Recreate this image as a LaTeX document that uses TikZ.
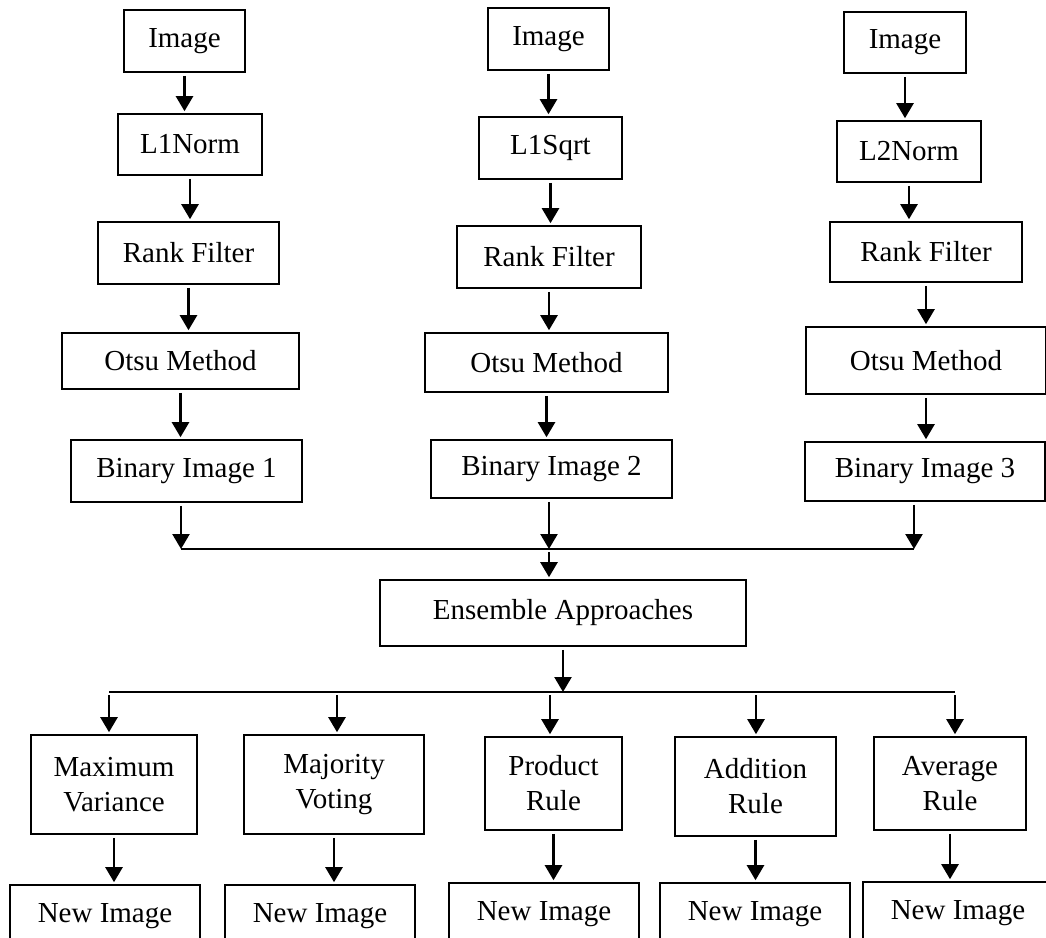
\documentclass[tikz,border=0pt]{standalone}
\usepackage{fontspec}
\setmainfont{Liberation Serif}
\usetikzlibrary{arrows.meta}

\begin{document}
\begin{tikzpicture}[x=0.5pt, y=-0.5pt,
  box/.style={draw, line width=0.8pt, inner sep=0pt, align=center, font=\fontsize{14.5}{17.5}\selectfont},
  arr/.style={line width=1.2pt, -{Triangle[length=7.5pt,width=8.5pt]}, shorten <=1.5pt, shorten >=1pt},
  bus/.style={line width=0.8pt}]

\useasboundingbox (0,0) rectangle (1046,938);
\clip (0,0) rectangle (1046,938);

\node[box, minimum width=60.5pt, minimum height=31pt] (img1) at (184.5,41) {Image};
\node[box, minimum width=72pt, minimum height=30.5pt] (nrm1) at (190,144.5) {L1Norm};
\node[box, minimum width=90.5pt, minimum height=31pt] (rank1) at (188.5,253) {Rank Filter};
\node[box, minimum width=118.5pt, minimum height=28pt] (otsu1) at (180.5,361) {Otsu Method};
\node[box, minimum width=115.5pt, minimum height=31pt] (bin1) at (186.5,471) {Binary Image 1};

\node[box, minimum width=60.5pt, minimum height=31pt] (img2) at (548.5,39) {Image};
\node[box, minimum width=71.5pt, minimum height=31pt] (nrm2) at (550.5,148) {L1Sqrt};
\node[box, minimum width=92pt, minimum height=31pt] (rank2) at (549,257) {Rank Filter};
\node[box, minimum width=121.5pt, minimum height=29.5pt] (otsu2) at (546.5,362.5) {Otsu Method};
\node[box, minimum width=120.5pt, minimum height=29pt] (bin2) at (551.5,469) {Binary Image 2};

\node[box, minimum width=61pt, minimum height=30.5pt] (img3) at (905,42.5) {Image};
\node[box, minimum width=72pt, minimum height=30.5pt] (nrm3) at (909,151.5) {L2Norm};
\node[box, minimum width=96pt, minimum height=30pt] (rank3) at (926,252) {Rank Filter};
\node[box, minimum width=120pt, minimum height=33.5pt] (otsu3) at (926,360.5) {Otsu Method};
\node[box, minimum width=120pt, minimum height=29.5pt] (bin3) at (925,471.5) {Binary Image 3};

\node[box, minimum width=183pt, minimum height=33pt] (ens) at (563,613) {Ensemble Approaches};

\node[box, minimum width=83pt, minimum height=49.5pt] (mv) at (114,784.5) {Maximum\\Variance};
\node[box, minimum width=90pt, minimum height=49.5pt] (mj) at (334,784.5) {Majority\\Voting};
\node[box, minimum width=68.5pt, minimum height=46.5pt] (pr) at (553.5,783.5) {Product\\Rule};
\node[box, minimum width=80.5pt, minimum height=49.5pt] (ad) at (755.5,786.5) {Addition\\Rule};
\node[box, minimum width=76pt, minimum height=46.5pt] (av) at (950,783.5) {Average\\Rule};

\node[box, minimum width=95pt, minimum height=31pt] (new1) at (105,916) {New Image};
\node[box, minimum width=95pt, minimum height=31pt] (new2) at (320,916) {New Image};
\node[box, minimum width=95pt, minimum height=31pt] (new3) at (544,914) {New Image};
\node[box, minimum width=95pt, minimum height=31pt] (new4) at (755,914) {New Image};
\node[box, minimum width=95pt, minimum height=31pt] (new5) at (958,913) {New Image};

\coordinate (j1) at (181,549);
\coordinate (j2) at (549,549);
\coordinate (j3) at (914,549);
\coordinate (s1) at (109,692);
\coordinate (s2) at (337,692);
\coordinate (s3) at (550,692);
\coordinate (s4) at (756,692);
\coordinate (s5) at (955,692);

\foreach \a/\b in {img1/nrm1, nrm1/rank1, rank1/otsu1, otsu1/bin1,
                   img2/nrm2, nrm2/rank2, rank2/otsu2, otsu2/bin2,
                   img3/nrm3, nrm3/rank3, rank3/otsu3, otsu3/bin3,
                   mv/new1, mj/new2, pr/new3, ad/new4, av/new5}
  \draw[arr] (\a.south) -- (\a.south |- \b.north);

\draw[arr, shorten >=0pt] (j1 |- bin1.south) -- (j1);
\draw[arr, shorten >=0pt] (j2 |- bin2.south) -- (j2);
\draw[arr, shorten >=0pt] (j3 |- bin3.south) -- (j3);
\draw[bus] (j1) -- (j3);
\draw[arr] (j2) -- (j2 |- ens.north);

\draw[arr, shorten >=0pt] (ens.south) -- (ens.south |- s3);
\draw[bus] (s1) -- (s5);
\draw[arr] (s1) -- (s1 |- mv.north);
\draw[arr] (s2) -- (s2 |- mj.north);
\draw[arr] (s3) -- (s3 |- pr.north);
\draw[arr] (s4) -- (s4 |- ad.north);
\draw[arr] (s5) -- (s5 |- av.north);

\end{tikzpicture}
\end{document}
